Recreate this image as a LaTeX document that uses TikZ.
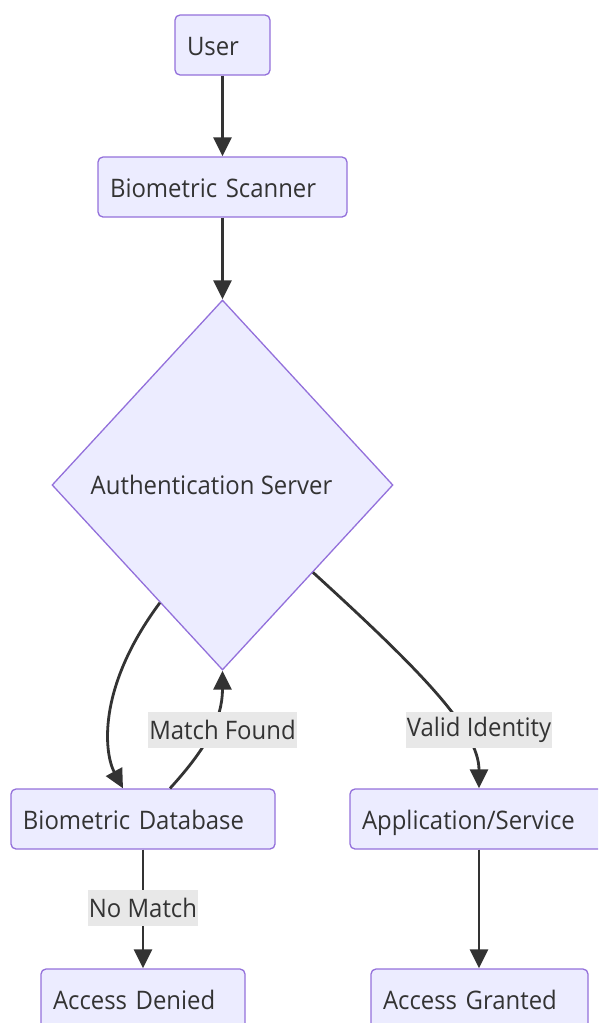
\documentclass[tikz,border=0pt]{standalone}
\usepackage{fontspec}
\setmainfont{Open Sans}[FakeStretch=0.938]
\usetikzlibrary{shapes.geometric,arrows.meta}
\definecolor{boxfill}{HTML}{ECECFF}
\definecolor{boxline}{HTML}{9370DB}
\definecolor{ink}{HTML}{333333}
\definecolor{labelbg}{HTML}{E8E8E8}
\tikzset{
  boxnode/.style={draw=boxline, fill=boxfill, rounded corners=5pt, line width=1.3pt,
    minimum height=60pt, inner xsep=12pt, inner ysep=0pt, align=left, text=ink,
    text height=20pt, text depth=0pt,
    font=\fontsize{25.5}{30}\selectfont},
  decision/.style={diamond, draw=boxline, fill=boxfill, line width=1.3pt,
    minimum width=341pt, minimum height=370pt, inner sep=0pt, text=ink,
    font=\fontsize{25.5}{30}\selectfont},
  edge/.style={draw=ink, line width=2.8pt, -{Triangle[length=19pt,width=18pt]}},
  elabel/.style={fill=labelbg, text=ink, inner xsep=1pt, inner ysep=0pt,
    minimum height=36pt, font=\fontsize{25.5}{30}\selectfont}
}
\begin{document}
\begin{tikzpicture}[x=1pt,y=-1pt]
\useasboundingbox (0,0) rectangle (598,1023);
\clip (0,0) rectangle (598,1023);
\node[boxnode, text width=71pt] (user) at (222.5,45) {User};
\node[boxnode, text width=225pt] (scanner) at (222.5,187) {Biometric Scanner};
\node[decision] (auth) at (222.5,485) {Authentication Server\hspace*{22pt}};
\node[boxnode, text width=240pt] (db) at (143,819) {Biometric Database};
\node[boxnode, text width=234pt] (app) at (479,819) {Application/Service};
\node[boxnode, text width=180pt] (denied) at (143,999) {Access Denied};
\node[boxnode, text width=193pt] (granted) at (479.5,999) {Access Granted};

\draw[edge] (user.south) -- (scanner.north);
\draw[edge] (scanner.south) -- (auth.north);
\draw[edge] (auth.242) .. controls (95,690) and (105,755) .. ([xshift=-20pt]db.north);
\draw[edge] ([xshift=27pt]db.north) .. controls (205,750) and (222.5,720) .. (auth.south);
\draw[edge] (auth.316) .. controls (420,670) and (479,730) .. (app.north);
\draw[edge] (db.south) -- (denied.north);
\draw[edge] (app.south) -- (app.south |- granted.north);

\node[elabel] (lmatch) at (222.5,730) {Match Found};
\node[elabel] (lvalid) at (479,730) {Valid Identity};
\node[elabel] (lnomatch) at (143,908) {No Match};
\end{tikzpicture}
\end{document}
